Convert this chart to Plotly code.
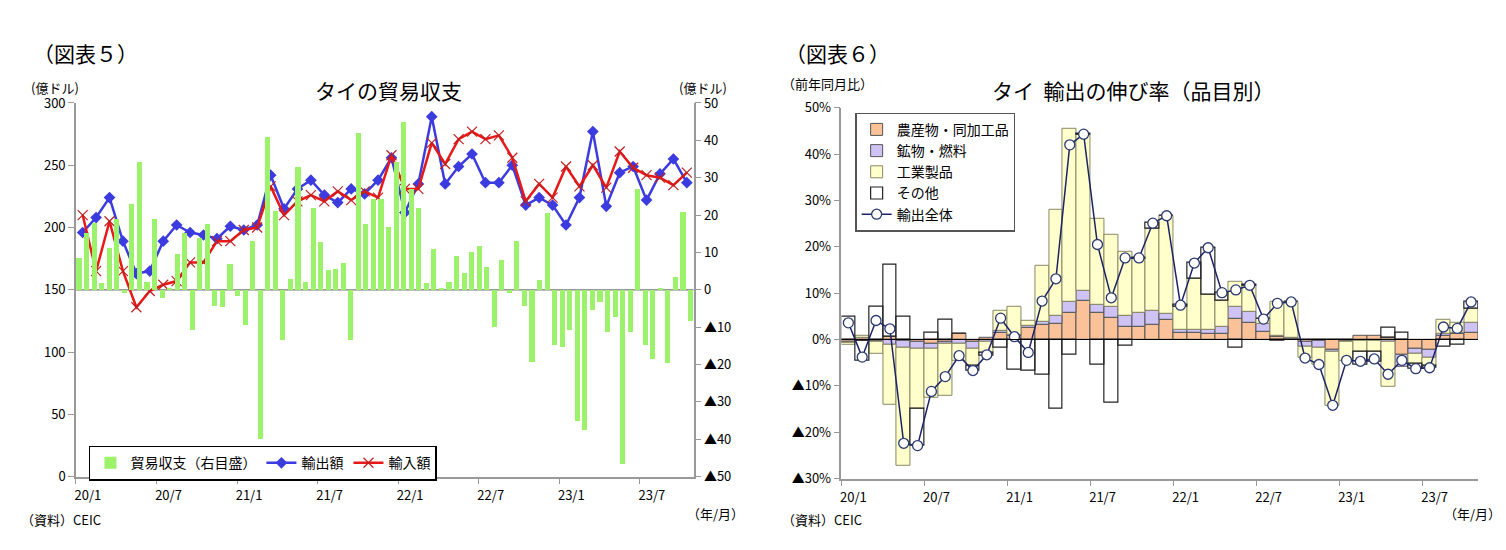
import plotly.graph_objects as go

labels6 = ["20/1", "20/7", "21/1", "21/7", "22/1", "22/7", "23/1", "23/7"]

# ---- Figure 5 data (Jan 2020 - Oct 2023) ----
exports = [196, 208, 224, 189, 163, 165, 189, 202, 196, 194, 191, 201,
           198, 202, 242, 215, 231, 238, 226, 220, 231, 227, 238, 256,
           212, 235, 289, 235, 249, 259, 236, 236, 250, 218, 224, 218,
           202, 224, 277, 217, 244, 249, 222, 243, 255, 236]
imports = [210, 165, 205, 165, 136, 149, 154, 157, 172, 172, 189, 189,
           198, 200, 233, 210, 221, 226, 221, 229, 222, 229, 224, 258,
           231, 231, 268, 251, 271, 277, 271, 274, 256, 221, 235, 224,
           249, 233, 250, 232, 261, 248, 242, 240, 234, 244]
balance = [8.4, 15.3, 17.9, 1.7, 11.2, 19.0, -0.9, 23.1, 34.3, 2.0, 19.0, -2.3, 0.3,
           9.6, 15.3, -10.8, 14.0, 17.7, -4.2, -4.5, 7.0, -1.7, -9.5,
           13.0, -40.0, 41.0, 21.0, -13.5, 2.8, 32.8, 2.2, 22.0, 12.8, 5.3, 5.7, 7.3,
           -13.5, 42.0, 17.7, 24.4, 24.4, 16.8,
           34.3, 44.9, 27.0, 22.0, 1.7, 11.0, 0.3, 2.0, 9.1, 4.6, 10.2, 11.6, 6.0,
           -9.9, 8.0, -0.8, 13.0, -4.2, -19.2, 2.6, 20.5, -14.7, -15.3, -10.8,
           -35.1, -37.5, -5.3, -3.2, -11.2, -7.3, -46.5, -11.2, 27.0, -14.7, -18.5,
           0.4, -19.7, 3.4, 20.8, -8.4]

# ---- Figure 6 data (% y/y contributions) ----
agri = [-0.4, 0.3, -0.3, 0.6, -0.2, -0.5, -1.0, -0.5, 1.2, -0.4, 0.3, 1.5,
        0.8, 2.6, 3.1, 3.4, 5.7, 8.3, 5.7, 4.7, 2.8, 2.8, 3.1, 4.2,
        1.5, 1.4, 1.2, 1.2, 4.4, 3.6, 1.7, 0.6, 0.2, -0.5, -0.3, -2.3,
        -0.3, 0.8, 0.7, 0.3, -3.3, -1.9, -2.2, 0.8, 1.2, 1.5]
mineral = [-0.3, -0.2, -0.3, -1.2, -1.6, -1.5, -1.0, -0.5, -1.0, -1.5, -0.6, 0.3,
           0.2, 0.3, 0.7, 1.7, 2.4, 2.3, 1.7, 2.4, 2.3, 2.9, 3.1, 1.3,
           0.5, 0.8, 0.8, 1.5, 2.7, 2.3, 1.6, 0.2, 0.1, -1.1, -1.5, -0.3,
           -0.2, -0.3, -0.3, -0.6, -2.6, -1.1, -1.8, 0.4, 0.3, 2.1]
industry = [-0.5, 0.5, -2.4, -12.8, -25.5, -13.0, -10.6, -11.2, -3.7, -3.8, -2.3, 4.5,
            6.1, 1.1, 12.1, 22.9, 37.3, 33.5, 18.6, 15.6, 13.8, 11.8, 17.6, 21.2,
            5.1, 10.8, 7.7, 5.6, 5.3, 5.7, 1.1, 7.3, 7.8, -2.4, -3.6, -11.6,
            -4.0, -2.4, -2.3, -9.5, 0.0, -2.3, -1.6, 3.0, 2.1, 3.1]
other = [4.8, -4.4, 7.1, 15.6, 5.0, -7.9, 1.4, 4.2, 0.0, -1.0, -0.7, -1.7,
         -6.5, -6.8, -7.6, -14.9, -3.4, 0.2, -5.5, -13.7, -1.3, 0.1, 1.3, 0.0,
         0.3, 3.5, 10.1, 1.8, -1.7, 0.1, 0.0, -0.3, 0.0, 0.0, 0.0, 0.0,
         0.0, -2.8, -2.3, 2.3, 1.4, -1.0, -0.5, -1.5, -1.2, 1.4]
total = [3.6, -3.8, 4.1, 2.3, -22.4, -22.9, -11.2, -8.0, -3.5, -6.7, -3.3, 4.6,
         0.6, -2.8, 8.3, 13.1, 42.0, 44.3, 20.5, 9.0, 17.6, 17.6, 25.1, 26.7,
         7.4, 16.5, 19.8, 10.1, 10.7, 11.7, 4.4, 7.8, 8.1, -4.0, -5.4, -14.2,
         -4.5, -4.7, -4.2, -7.5, -4.5, -6.3, -6.1, 2.7, 2.4, 8.1]

FONT = "Noto Sans CJK JP"
W, H = 1506, 550
def px(x): return x / W
def py(y): return 1 - y / H

fig = go.Figure()
mi = list(range(len(exports)))
bi = list(range(len(balance)))
ti = list(range(len(total)))

fig.add_trace(go.Bar(x=bi, y=balance, xaxis="x3", yaxis="y2", name="貿易収支（右目盛）",
                     marker=dict(color="#9CF26A", line=dict(width=0)), width=0.68,
                     legend="legend"))
fig.add_trace(go.Scatter(x=mi, y=exports, xaxis="x", yaxis="y", name="輸出額", mode="lines+markers",
                         line=dict(color="#3B3BE0", width=2.5),
                         marker=dict(symbol="diamond", size=9, color="#3B3BE0"), legend="legend"))
fig.add_trace(go.Scatter(x=mi, y=imports, xaxis="x", yaxis="y", name="輸入額", mode="lines+markers",
                         line=dict(color="#E81818", width=2.5),
                         marker=dict(symbol="x-thin", size=10, color="#C02020",
                                     line=dict(width=1.2, color="#C02020")), legend="legend"))

bl = dict(color="#555555", width=1)
fig.add_trace(go.Bar(x=ti, y=agri, xaxis="x4", yaxis="y4", name="農産物・同加工品",
                     marker=dict(color="#FBC29A", line=bl), legend="legend2"))
fig.add_trace(go.Bar(x=ti, y=mineral, xaxis="x4", yaxis="y4", name="鉱物・燃料",
                     marker=dict(color="#CFC3F6", line=bl), legend="legend2"))
fig.add_trace(go.Bar(x=ti, y=industry, xaxis="x4", yaxis="y4", name="工業製品",
                     marker=dict(color="#FFFFCC", line=dict(color="#888866", width=1)), legend="legend2"))
fig.add_trace(go.Bar(x=ti, y=other, xaxis="x4", yaxis="y4", name="その他",
                     marker=dict(color="rgba(255,255,255,0)", line=dict(color="#222222", width=1.2)),
                     legend="legend2"))
fig.add_trace(go.Scatter(x=ti, y=total, xaxis="x4", yaxis="y4", name="輸出全体", mode="lines+markers",
                         line=dict(color="#1C2466", width=1.5),
                         marker=dict(symbol="circle", size=10, color="white",
                                     line=dict(color="#2A3A70", width=1.3)), legend="legend2"))

ldom = [px(67), px(685)]
rdom = [px(833), px(1470)]
lyd = [py(475), py(88)]
ryd = [py(477), py(93)]
tv = [-0.5 + 6 * k for k in range(8)]
ax_common = dict(showline=True, linecolor="#999999", linewidth=1.5, ticks="outside",
                 ticklen=6, tickcolor="#999999", showgrid=False, zeroline=False,
                 tickfont=dict(size=13, color="black", family=FONT))

fig.update_layout(
    width=W, height=H, margin=dict(l=0, r=0, t=0, b=0),
    plot_bgcolor="white", paper_bgcolor="white", barmode="relative", bargap=0,
    font=dict(family=FONT, color="black"),
    xaxis=dict(domain=ldom, anchor="y", range=[-0.5, 45.5], tickvals=tv, ticktext=labels6,
               ticklabelshift=12, **ax_common),
    yaxis=dict(domain=lyd, anchor="x", range=[0, 300], dtick=50, **ax_common),
    yaxis2=dict(overlaying="y", side="right", anchor="x", range=[-50, 50],
                tickvals=list(range(-50, 51, 10)),
                ticktext=[("▲%d" % -v) if v < 0 else str(v) for v in range(-50, 51, 10)],
                **ax_common),
    xaxis3=dict(overlaying="x", range=[-0.4, 81.4], visible=False),
    xaxis4=dict(domain=rdom, anchor="y4", range=[-0.5, 45.5], tickvals=tv, ticktext=labels6,
                ticklabelshift=12, **ax_common),
    yaxis4=dict(domain=ryd, anchor="x4", range=[-30, 50],
                tickvals=list(range(-30, 51, 10)),
                ticktext=[("▲%d%%" % -v) if v < 0 else ("%d%%" % v) for v in range(-30, 51, 10)],
                **ax_common),
    legend=dict(x=px(80), y=py(443), xanchor="left", yanchor="top", orientation="h",
                bgcolor="white", bordercolor="black", borderwidth=1.5,
                font=dict(size=14, family=FONT), traceorder="normal", itemwidth=30),
    legend2=dict(x=px(847), y=py(98), xanchor="left", yanchor="top", orientation="v",
                 bgcolor="white", bordercolor="#555555", borderwidth=1.2,
                 font=dict(size=14, family=FONT), traceorder="normal", tracegroupgap=0,
                 itemwidth=30),
)
fig.add_shape(type="line", xref="paper", yref="y2", x0=ldom[0], x1=ldom[1], y0=0, y1=0,
              line=dict(color="#777777", width=1.2), layer="below")
fig.add_shape(type="line", xref="x4", yref="y4", x0=-0.5, x1=45.5, y0=0, y1=0,
              line=dict(color="black", width=1.2))

ann = [
    ("（図表５）", 22, 36, 21, "left"),
    ("タイの貿易収支", 380, 75, 21, "center"),
    ("(億ドル)", 20, 72, 13, "left"),
    ("(億ドル)", 668, 72, 13, "left"),
    ("（資料）CEIC", 10, 519, 13, "left"),
    ("（年/月）", 676, 513, 13, "left"),
    ("（図表６）", 775, 36, 21, "left"),
    ("タイ  輸出の伸び率（品目別）", 1125, 75, 21, "center"),
    ("（前年同月比）", 772, 68, 13, "left"),
    ("（資料）CEIC", 772, 519, 13, "left"),
    ("（年/月）", 1434, 513, 13, "left"),
]
for t, x, y, s, a in ann:
    fig.add_annotation(text=t, x=px(x), y=py(y), xref="paper", yref="paper",
                       xanchor=a, yanchor="middle", showarrow=False,
                       font=dict(size=s, family=FONT, color="black"))

fig.write_html("out.html")
